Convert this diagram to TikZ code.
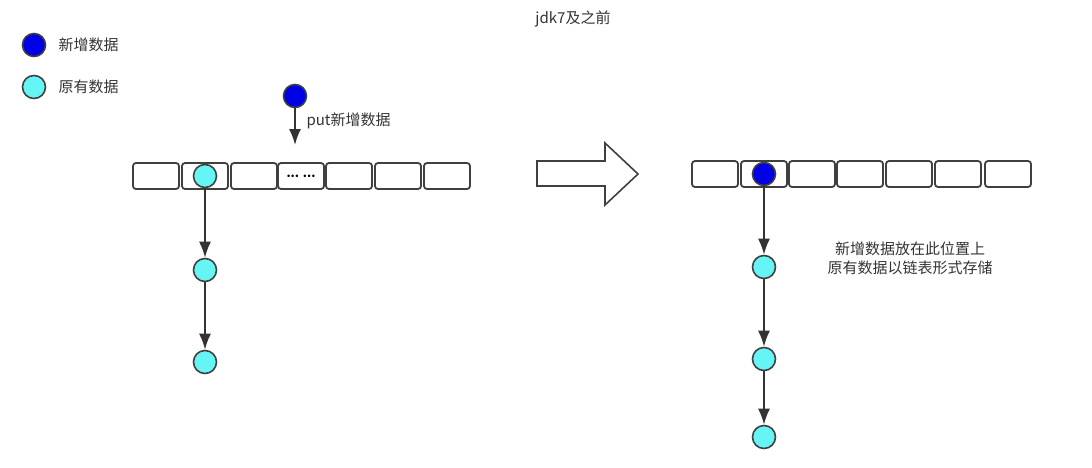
\documentclass[tikz,border=0pt]{standalone}
\usepackage{fontspec}
\setmainfont{Noto Sans CJK SC}
\usetikzlibrary{arrows.meta}
\definecolor{oldc}{HTML}{66F5F5}
\definecolor{newc}{HTML}{0000E6}
\begin{document}
\begin{tikzpicture}[x=1pt,y=-1pt,
  cell/.style={draw=black!75,line width=1.8pt,rounded corners=3pt,minimum width=46pt,minimum height=26pt,inner sep=0pt,fill=white},
  newd/.style={circle,draw=black!75,line width=1.6pt,fill=newc,minimum size=23pt,inner sep=0pt},
  oldd/.style={circle,draw=black!75,line width=1.6pt,fill=oldc,minimum size=23pt,inner sep=0pt},
  arr/.style={draw=black!80,line width=1.8pt,-{Latex[length=16pt,width=12pt]}},
  lbl/.style={font=\fontsize{15}{19}\selectfont,text=black!80}]
\useasboundingbox (0,0) rectangle (1092,467);
\node[lbl] (title) at (573,19) {jdk7及之前};
\node[newd] (lg1) at (34,45) {};
\node[lbl,anchor=west] (lg1t) at (55,45) {新增数据};
\node[oldd] (lg2) at (34,87) {};
\node[lbl,anchor=west] (lg2t) at (55,87) {原有数据};
% left array
\foreach \i/\x in {1/156,2/205,3/254,4/301,5/349,6/398,7/447}{\node[cell] (L\i) at (\x,176) {};}
\node[font=\fontsize{12}{14}\selectfont] (dots) at (L4) {\textbf{... ...}};
\node[newd] (ln) at (295,96) {};
\coordinate (lnend) at (295,145);
\draw[arr] (ln) -- (lnend);
\node[lbl,anchor=west] (put) at (303,121) {put新增数据};
\node[oldd] (l1) at (205,176) {};
\node[oldd] (l2) at (205,270) {};
\node[oldd] (l3) at (205,362) {};
\draw[arr] (l1) -- (l2);
\draw[arr] (l2) -- (l3);
% big arrow
\draw[draw=black!75,line width=1.6pt,fill=white] (537,161) -- (605,161) -- (605,143) -- (638,174) -- (605,205) -- (605,186) -- (537,186) -- cycle;
% right array
\foreach \i/\x in {1/715,2/764,3/812,4/860,5/909,6/958,7/1008}{\node[cell] (R\i) at (\x,174) {};}
\node[newd] (r0) at (764,174) {};
\node[oldd] (r1) at (764,267) {};
\node[oldd] (r2) at (764,359) {};
\node[oldd] (r3) at (764,437) {};
\draw[arr] (r0) -- (r1);
\draw[arr] (r1) -- (r2);
\draw[arr] (r2) -- (r3);
\node[lbl,align=center] (note) at (910,258) {新增数据放在此位置上\\原有数据以链表形式存储};
\end{tikzpicture}
\end{document}
